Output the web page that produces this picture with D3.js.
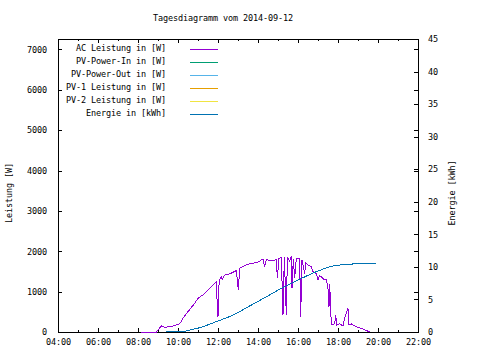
<!DOCTYPE html>
<html>
<head>
  <meta charset="utf-8">
  <style>
    body { margin: 0; background: #fff; }
    svg { display: block; }
    text {
      font-family: "DejaVu Sans Mono", "Liberation Mono", monospace;
      font-size: 8.5px;
      letter-spacing: -0.12px;
      fill: #000;
    }
    .border, .tick line { shape-rendering: crispEdges; }
    .series { fill: none; stroke-width: 1; shape-rendering: crispEdges; }
  </style>
</head>
<body>
<svg width="480" height="360"></svg>
<script src="https://d3js.org/d3.v7.min.js"></script>
<script>

  // AC Leistung in [W]
  var acTimes = ["08:10","08:55","09:00","09:10","09:20","09:45","10:05","10:15","10:30","10:50",
    "11:00","11:15","11:30","11:45","11:55","11:58","12:00","12:02","12:05","12:10","12:13","12:20",
    "12:35","12:55","13:01","13:05","13:25","13:35","14:00","14:15","14:20","14:25","14:35","14:55",
    "14:58","15:03","15:10","15:15","15:19","15:25","15:28","15:35","15:40","15:42","15:46","15:50",
    "15:55","16:05","16:08","16:12","16:20","16:23","16:30","16:40","16:45","16:55","17:00","17:05",
    "17:15","17:20","17:25","17:30","17:33","17:35","17:40","17:50","17:53","17:56","18:05","18:15",
    "18:20","18:30","18:33","18:40","18:55","19:15","19:30","19:36"];
  var acValues = [0,0,50,150,115,150,200,340,505,710,
    835,920,1040,1165,1250,600,380,1100,1300,1370,1300,1410,
    1440,1520,1040,1580,1660,1690,1730,1810,1620,1800,1760,1790,
    1330,1830,1840,420,1860,420,1860,1750,1870,1080,1820,1330,
    1820,1820,380,1780,1450,1720,1660,1620,1500,1450,1290,1400,
    1330,1290,1300,1080,630,1200,175,200,420,175,200,150,
    350,585,175,200,130,75,20,0];

  // Energie in [kWh]
  var energyTimes = ["09:25","10:15","10:35","11:05","11:55","12:45","13:35","14:25","15:15",
    "16:05","16:55","17:45","18:35","19:00","19:55"];
  var energyValues = [0,0.05,0.3,0.66,1.6,2.6,4.0,5.4,6.85,8.1,9.26,10.14,10.4,10.5,10.5];

  var legendLabels = ["AC Leistung in [W]", "PV-Power-In in [W]", "PV-Power-Out in [W]",
    "PV-1 Leistung in [W]", "PV-2 Leistung in [W]", "Energie in [kWh]"];
  var legendColors = ["#9400d3", "#009e73", "#56b4e9", "#e69f00", "#f0e442", "#0072b2"];

  var yTicks = [0,1000,2000,3000,4000,5000,6000,7000];
  var y2Ticks = [0,5,10,15,20,25,30,35,40,45];

  var svg = d3.select("svg"),
      plotLeft = 58, plotRight = 418, plotTop = 39, plotBottom = 332;

  var parse = d3.timeParse("%H:%M");

  var x = d3.scaleTime()
    .domain([parse("04:00"), parse("22:00")])
    .range([plotLeft, plotRight]);

  var y = d3.scaleLinear().domain([0, 7260]).range([plotBottom, plotTop]);
  var y2 = d3.scaleLinear().domain([0, 45]).range([plotBottom, plotTop]);

  var majorX = d3.timeHour.every(2).range(parse("04:00"), parse("22:01"));
  var minorX = d3.timeHour.every(1).range(parse("04:00"), parse("22:01"));

  function noDomain(g) { g.select(".domain").remove(); }

  // title
  svg.append("text")
    .attr("x", 223)
    .attr("y", 21)
    .attr("text-anchor", "middle")
    .text("Tagesdiagramm vom 2014-09-12");

  // border first, series go on top of it
  svg.append("rect")
    .attr("class", "border")
    .attr("x", plotLeft + 0.5)
    .attr("y", plotTop + 0.5)
    .attr("width", plotRight - plotLeft)
    .attr("height", plotBottom - plotTop)
    .attr("fill", "none")
    .attr("stroke", "#000");

  // bottom axis, ticks pointing inward
  svg.append("g")
    .attr("transform", "translate(0," + plotBottom + ")")
    .call(d3.axisBottom(x).tickValues(minorX).tickSize(-2).tickFormat(""))
    .call(noDomain);

  svg.append("g")
    .attr("transform", "translate(0," + plotBottom + ")")
    .call(d3.axisBottom(x).tickValues(majorX).tickSize(-4).tickFormat(d3.timeFormat("%H:%M")))
    .call(noDomain)
    .call(function(g) { g.selectAll(".tick text").attr("y", 7).attr("dy", "0.71em"); });

  // top mirror
  svg.append("g")
    .attr("transform", "translate(0," + plotTop + ")")
    .call(d3.axisTop(x).tickValues(minorX).tickSize(-2).tickFormat(""))
    .call(noDomain);
  svg.append("g")
    .attr("transform", "translate(0," + plotTop + ")")
    .call(d3.axisTop(x).tickValues(majorX).tickSize(-4).tickFormat(""))
    .call(noDomain);

  // left axis
  svg.append("g")
    .attr("transform", "translate(" + plotLeft + ",0)")
    .call(d3.axisLeft(y).tickValues(yTicks).tickSize(-4).tickFormat(d3.format("d")))
    .call(noDomain)
    .call(function(g) { g.selectAll(".tick text").attr("x", -11); });

  // left ticks mirrored on right
  svg.append("g")
    .attr("transform", "translate(" + plotRight + ",0)")
    .call(d3.axisRight(y).tickValues(yTicks).tickSize(-4).tickFormat(""))
    .call(noDomain);

  // right axis
  svg.append("g")
    .attr("transform", "translate(" + plotRight + ",0)")
    .call(d3.axisRight(y2).tickValues(y2Ticks).tickSize(-4).tickFormat(d3.format("d")))
    .call(noDomain)
    .call(function(g) { g.selectAll(".tick text").attr("x", 10); });

  // axis titles
  svg.append("text")
    .attr("transform", "translate(12,193) rotate(-90)")
    .attr("text-anchor", "middle")
    .text("Leistung [W]");

  svg.append("text")
    .attr("transform", "translate(455,193) rotate(-90)")
    .attr("text-anchor", "middle")
    .text("Energie [kWh]");

  // series
  var acData = acTimes.map(function(t, i) { return {t: parse(t), v: acValues[i]}; });
  var energyData = energyTimes.map(function(t, i) { return {t: parse(t), v: energyValues[i]}; });

  svg.append("path")
    .datum(acData)
    .attr("class", "series")
    .attr("stroke", legendColors[0])
    .attr("d", d3.line().x(function(d) { return x(d.t); }).y(function(d) { return y(d.v); }));

  svg.append("path")
    .datum(energyData)
    .attr("class", "series")
    .attr("stroke", legendColors[5])
    .attr("d", d3.line().curve(d3.curveMonotoneX).x(function(d) { return x(d.t); }).y(function(d) { return y2(d.v); }));

  // legend
  var legend = svg.append("g")
    .selectAll("g")
    .data(legendLabels)
    .enter().append("g")
    .attr("transform", function(d, i) { return "translate(0," + (48 + i * 13) + ")"; });

  legend.append("text")
    .attr("x", 166)
    .attr("y", 3)
    .attr("text-anchor", "end")
    .text(function(d) { return d; });

  legend.append("line")
    .attr("x1", 190)
    .attr("x2", 218)
    .attr("y1", 1.5)
    .attr("y2", 1.5)
    .attr("stroke", function(d, i) { return legendColors[i]; });

</script>
</body>
</html>
